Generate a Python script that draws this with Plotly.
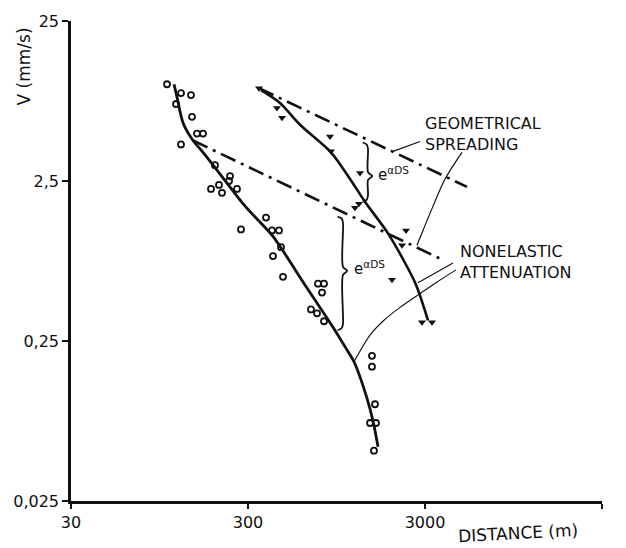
import math
import plotly.graph_objects as go

# ---------------- data ----------------
# near records (open circles)
near_dist = [104.6, 125.5, 142.9, 117.6, 144.8, 154.5, 167.1, 125.5, 195.3, 237.4,
             234.3, 205.7, 185.4, 260.0, 213.9, 379.2, 273.9, 448.9, 410.0, 460.8,
             415.3, 473.0, 745.8, 806.3, 785.6, 680.8, 736.1, 806.3, 1505, 1505,
             1565, 1467, 1586, 1545]
near_vel = [10.06, 8.856, 8.607, 7.574, 6.297, 4.946, 4.946, 4.229, 3.139, 2.684,
            2.500, 2.362, 2.231, 2.231, 2.108, 1.477, 1.246, 1.228, 1.228, 0.9645,
            0.8488, 0.6297, 0.5701, 0.5701, 0.5017, 0.3939, 0.3721, 0.3321, 0.2020, 0.1727,
            0.1006, 0.0768, 0.0768, 0.0516]

# far records (filled down-triangles)
far_dist = [346.1, 437.4, 466.9, 871.7, 883.1, 1288, 1206, 1271, 2343, 2225, 1953, 2885, 3285]
far_vel = [9.508, 7.155, 6.209, 4.740, 3.830, 2.801, 1.703, 1.803, 1.228, 0.9924, 0.6035, 0.3274, 0.3274]

# fitted attenuation curves
near_fit_dist = [114.6, 119.1, 128.8, 146.7, 167.1, 200.4, 281.1, 307.9, 415.3, 582.4,
                 689.8, 906.4, 1087, 1191, 1411, 1525, 1628]
near_fit_vel = [10.06, 8.367, 5.783, 4.477, 3.776, 2.923, 1.803, 1.609, 1.128, 0.6388,
                0.4807, 0.3050, 0.2200, 0.1855, 0.1096, 0.0790, 0.0546]
far_fit_dist = [355.2, 454.9, 590.1, 883.1, 1131, 1374, 1854, 2283, 2669, 3119]
far_fit_vel = [9.243, 7.685, 5.621, 3.776, 2.572, 1.855, 1.177, 0.7906, 0.5622, 0.3369]

# geometrical spreading lines
geo_near_dist = [146.7, 3792]
geo_near_vel = [4.477, 0.8017]
geo_far_dist = [346.1, 5181]
geo_far_vel = [9.508, 2.296]

# braces (distance, top, middle, bottom velocity)
brace_far = [1429, 4.35, 2.684, 1.855]
brace_near = [1032, 1.499, 0.6859, 0.2922]

# label pointer lines
ptr_geo_dist = [2811, 1979]
ptr_geo_vel = [4.413, 3.830]
ptr_spread_dist = [4855, 3892, 3285, 2923, 2703]
ptr_spread_vel = [3.776, 2.572, 1.680, 1.228, 0.9924]
ptr_att1_dist = [4318, 2739]
ptr_att1_vel = [0.7685, 0.5783]
ptr_att2_dist = [4489, 3461, 2811, 2167, 1760, 1467, 1191]
ptr_att2_vel = [0.6957, 0.5783, 0.4946, 0.4053, 0.3369, 0.2722, 0.1855]

# exponent labels (distance, velocity)
exp_label_far = [1991, 2.781]
exp_label_near = [1448, 0.7158]

x_ticks = [30, 300, 3000, 30000]
x_ticktext = ["30", "300", "3000", "30000"]
y_ticks = [0.025, 0.25, 2.5, 25]
y_ticktext = ["0,025", "0,25", "2,5", "25"]

FONT = "DejaVu Sans"
BLACK = "#111111"

fig = go.Figure()


def add_line(xs, ys, width, dash="solid", shape="linear"):
    fig.add_trace(go.Scatter(x=xs, y=ys, mode="lines",
                             line=dict(color=BLACK, width=width, dash=dash, shape=shape,
                                       smoothing=0.8),
                             hoverinfo="skip"))


def brace_path(spec, w=0.03):
    xc, ytop, ymid, ybot = spec
    lx = math.log10(xc)
    lt, lm, lb = math.log10(ytop), math.log10(ymid), math.log10(ybot)
    pts = [(lx - w, lt), (lx - 0.25 * w, lt - 0.012), (lx, lt - 0.04),
           (lx, lm + 0.025), (lx + 0.8 * w, lm), (lx, lm - 0.025),
           (lx, lb + 0.04), (lx - 0.25 * w, lb + 0.012), (lx - w, lb)]
    return [10 ** p[0] for p in pts], [10 ** p[1] for p in pts]


# geometrical spreading (dash-dot)
add_line(geo_near_dist, geo_near_vel, 2.6, dash="16px,6px,3px,6px")
add_line(geo_far_dist, geo_far_vel, 2.6, dash="16px,6px,3px,6px")

# attenuation curves
add_line(near_fit_dist, near_fit_vel, 2.8, shape="spline")
add_line(far_fit_dist, far_fit_vel, 2.6, shape="spline")

# braces
for b in (brace_far, brace_near):
    bx, by = brace_path(b)
    add_line(bx, by, 1.8, shape="spline")

# pointer lines
add_line(ptr_geo_dist, ptr_geo_vel, 1.2)
add_line(ptr_spread_dist, ptr_spread_vel, 1.2, shape="spline")
add_line(ptr_att1_dist, ptr_att1_vel, 1.1)
add_line(ptr_att2_dist, ptr_att2_vel, 1.1, shape="spline")

# data points
fig.add_trace(go.Scatter(x=near_dist, y=near_vel, mode="markers",
                         marker=dict(symbol="circle-open", size=6, color=BLACK,
                                     line=dict(width=1.8, color=BLACK)),
                         hoverinfo="skip"))
fig.add_trace(go.Scatter(x=far_dist, y=far_vel, mode="markers",
                         marker=dict(symbol="triangle-down", size=7, color=BLACK),
                         hoverinfo="skip"))

annotations = []
for spec in (exp_label_far, exp_label_near):
    annotations.append(dict(x=math.log10(spec[0]), y=math.log10(spec[1]), xref="x", yref="y",
                            text="e<sup>αDS</sup>", showarrow=False,
                            font=dict(family=FONT, size=15, color=BLACK)))

for txt, px, py in [("GEOMETRICAL<br>SPREADING", 0.6629, 0.7654),
                    ("NONELASTIC<br>ATTENUATION", 0.7288, 0.4969)]:
    annotations.append(dict(x=px, y=py, xref="paper", yref="paper", text=txt,
                            showarrow=False, xanchor="left", yanchor="middle", align="left",
                            font=dict(family=FONT, size=16, color=BLACK)))

annotations.append(dict(x=-0.0885, y=0.9053, xref="paper", yref="paper", text="V (mm/s)",
                        textangle=-90, showarrow=False, xanchor="center", yanchor="middle",
                        font=dict(family=FONT, size=17, color=BLACK)))
annotations.append(dict(x=0.8418, y=-0.0658, xref="paper", yref="paper", text="DISTANCE (m)",
                        textangle=-3, showarrow=False, xanchor="center", yanchor="middle",
                        font=dict(family=FONT, size=17, color=BLACK)))

fig.update_layout(
    width=626, height=548,
    margin=dict(l=71, r=24, t=15, b=47),
    plot_bgcolor="white", paper_bgcolor="white",
    showlegend=False,
    annotations=annotations,
    xaxis=dict(type="log", range=[math.log10(30), math.log10(30000)],
               showline=True, linecolor=BLACK, linewidth=2.5, mirror=False,
               showgrid=False, zeroline=False,
               ticks="outside", ticklen=5, tickwidth=2, tickcolor=BLACK,
               tickvals=x_ticks, ticktext=x_ticktext,
               tickfont=dict(family=FONT, size=16, color=BLACK)),
    yaxis=dict(type="log", range=[math.log10(0.025), math.log10(25)],
               showline=True, linecolor=BLACK, linewidth=2.5, mirror=False,
               showgrid=False, zeroline=False,
               ticks="outside", ticklen=6, tickwidth=2, tickcolor=BLACK,
               tickvals=y_ticks, ticktext=y_ticktext,
               tickfont=dict(family=FONT, size=16, color=BLACK)),
)

fig.write_html("out.html", config={"displayModeBar": False})
